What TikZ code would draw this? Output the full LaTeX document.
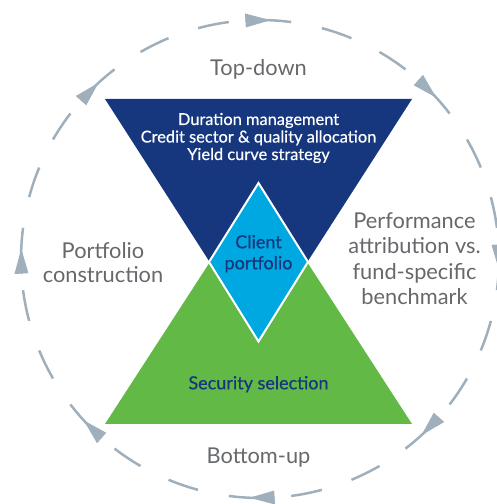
\documentclass[tikz,border=0pt]{standalone}
\usepackage{fontspec}
\setmainfont{Lato}
\newfontfamily\medfont[FakeBold=0.5]{Lato}
\usetikzlibrary{calc}
\definecolor{navy}{HTML}{16377D}
\definecolor{leaf}{HTML}{63B946}
\definecolor{sky}{HTML}{00A8E2}
\definecolor{ringgray}{HTML}{9FB0BC}
\definecolor{txtgray}{HTML}{66686B}
\tikzset{
  ring/.style={draw=ringgray, line width=2.5pt},
  ringtip/.style={fill=ringgray},
  graytext/.style={text=txtgray, font=\fontsize{21.8}{24}\selectfont, anchor=base, inner sep=0pt},
  whitetext/.style={text=white, font=\medfont\fontsize{16.4}{18}\selectfont, anchor=base, inner sep=0pt},
  navytext/.style={text=navy, font=\medfont\fontsize{18}{20}\selectfont, anchor=base, inner sep=0pt}
}
\begin{document}
\begin{tikzpicture}[x=1pt,y=1pt]
\useasboundingbox (0,0) rectangle (497,504);
\coordinate (C) at (260,245);
% dashed cycle with arrowheads
\foreach \t in {0,45,...,315}{
  \draw[ring] ($(C)+(\t+3.5:239pt)$) arc[start angle=\t+3.5, end angle=\t-7.5, radius=239pt];
  \draw[ring] ($(C)+(\t-15:239pt)$) arc[start angle=\t-15, end angle=\t-22.5, radius=239pt];
  \draw[ring] ($(C)+(\t-30:239pt)$) arc[start angle=\t-30, end angle=\t-37.5, radius=239pt];
  \fill[ringtip] ($(C)+(\t+3.5:232pt)$) -- ($(C)+(\t+3.5:246pt)$) -- ($(C)+(\t-2.5:239pt)$) -- cycle;
}
% triangles
\fill[navy] (105,405) -- (412,405) -- (258.5,166) -- cycle;
\fill[leaf] (105,80) -- (412,80) -- (258.5,317) -- cycle;
\filldraw[fill=sky, draw=white, line width=2pt] (258.5,321) -- (308,242) -- (258.5,162.5) -- (209,242) -- cycle;
% texts
\node[graytext] (top) at (258.5,428) {Top-down};
\node[graytext] (bottom) at (258.5,40) {Bottom-up};
\node[whitetext] (dur) at (258.5,379) {Duration management};
\node[whitetext] (cred) at (258.5,361.5) {Credit sector \& quality allocation};
\node[whitetext] (yield) at (258.5,344) {Yield curve strategy};
\node[navytext] (client) at (258.5,255.7) {Client};
\node[navytext] (portf) at (258.5,234.7) {portfolio};
\node[navytext] (sec) at (258.5,114.7) {Security selection};
\node[graytext] (pc1) at (103,245.7) {Portfolio};
\node[graytext] (pc2) at (103,221.7) {construction};
\node[graytext] (pa1) at (414.5,275.7) {Performance};
\node[graytext] (pa2) at (414.5,250) {attribution vs.};
\node[graytext] (pa3) at (414.5,224) {fund-specific};
\node[graytext] (pa4) at (414.5,199) {benchmark};
\end{tikzpicture}
\end{document}
